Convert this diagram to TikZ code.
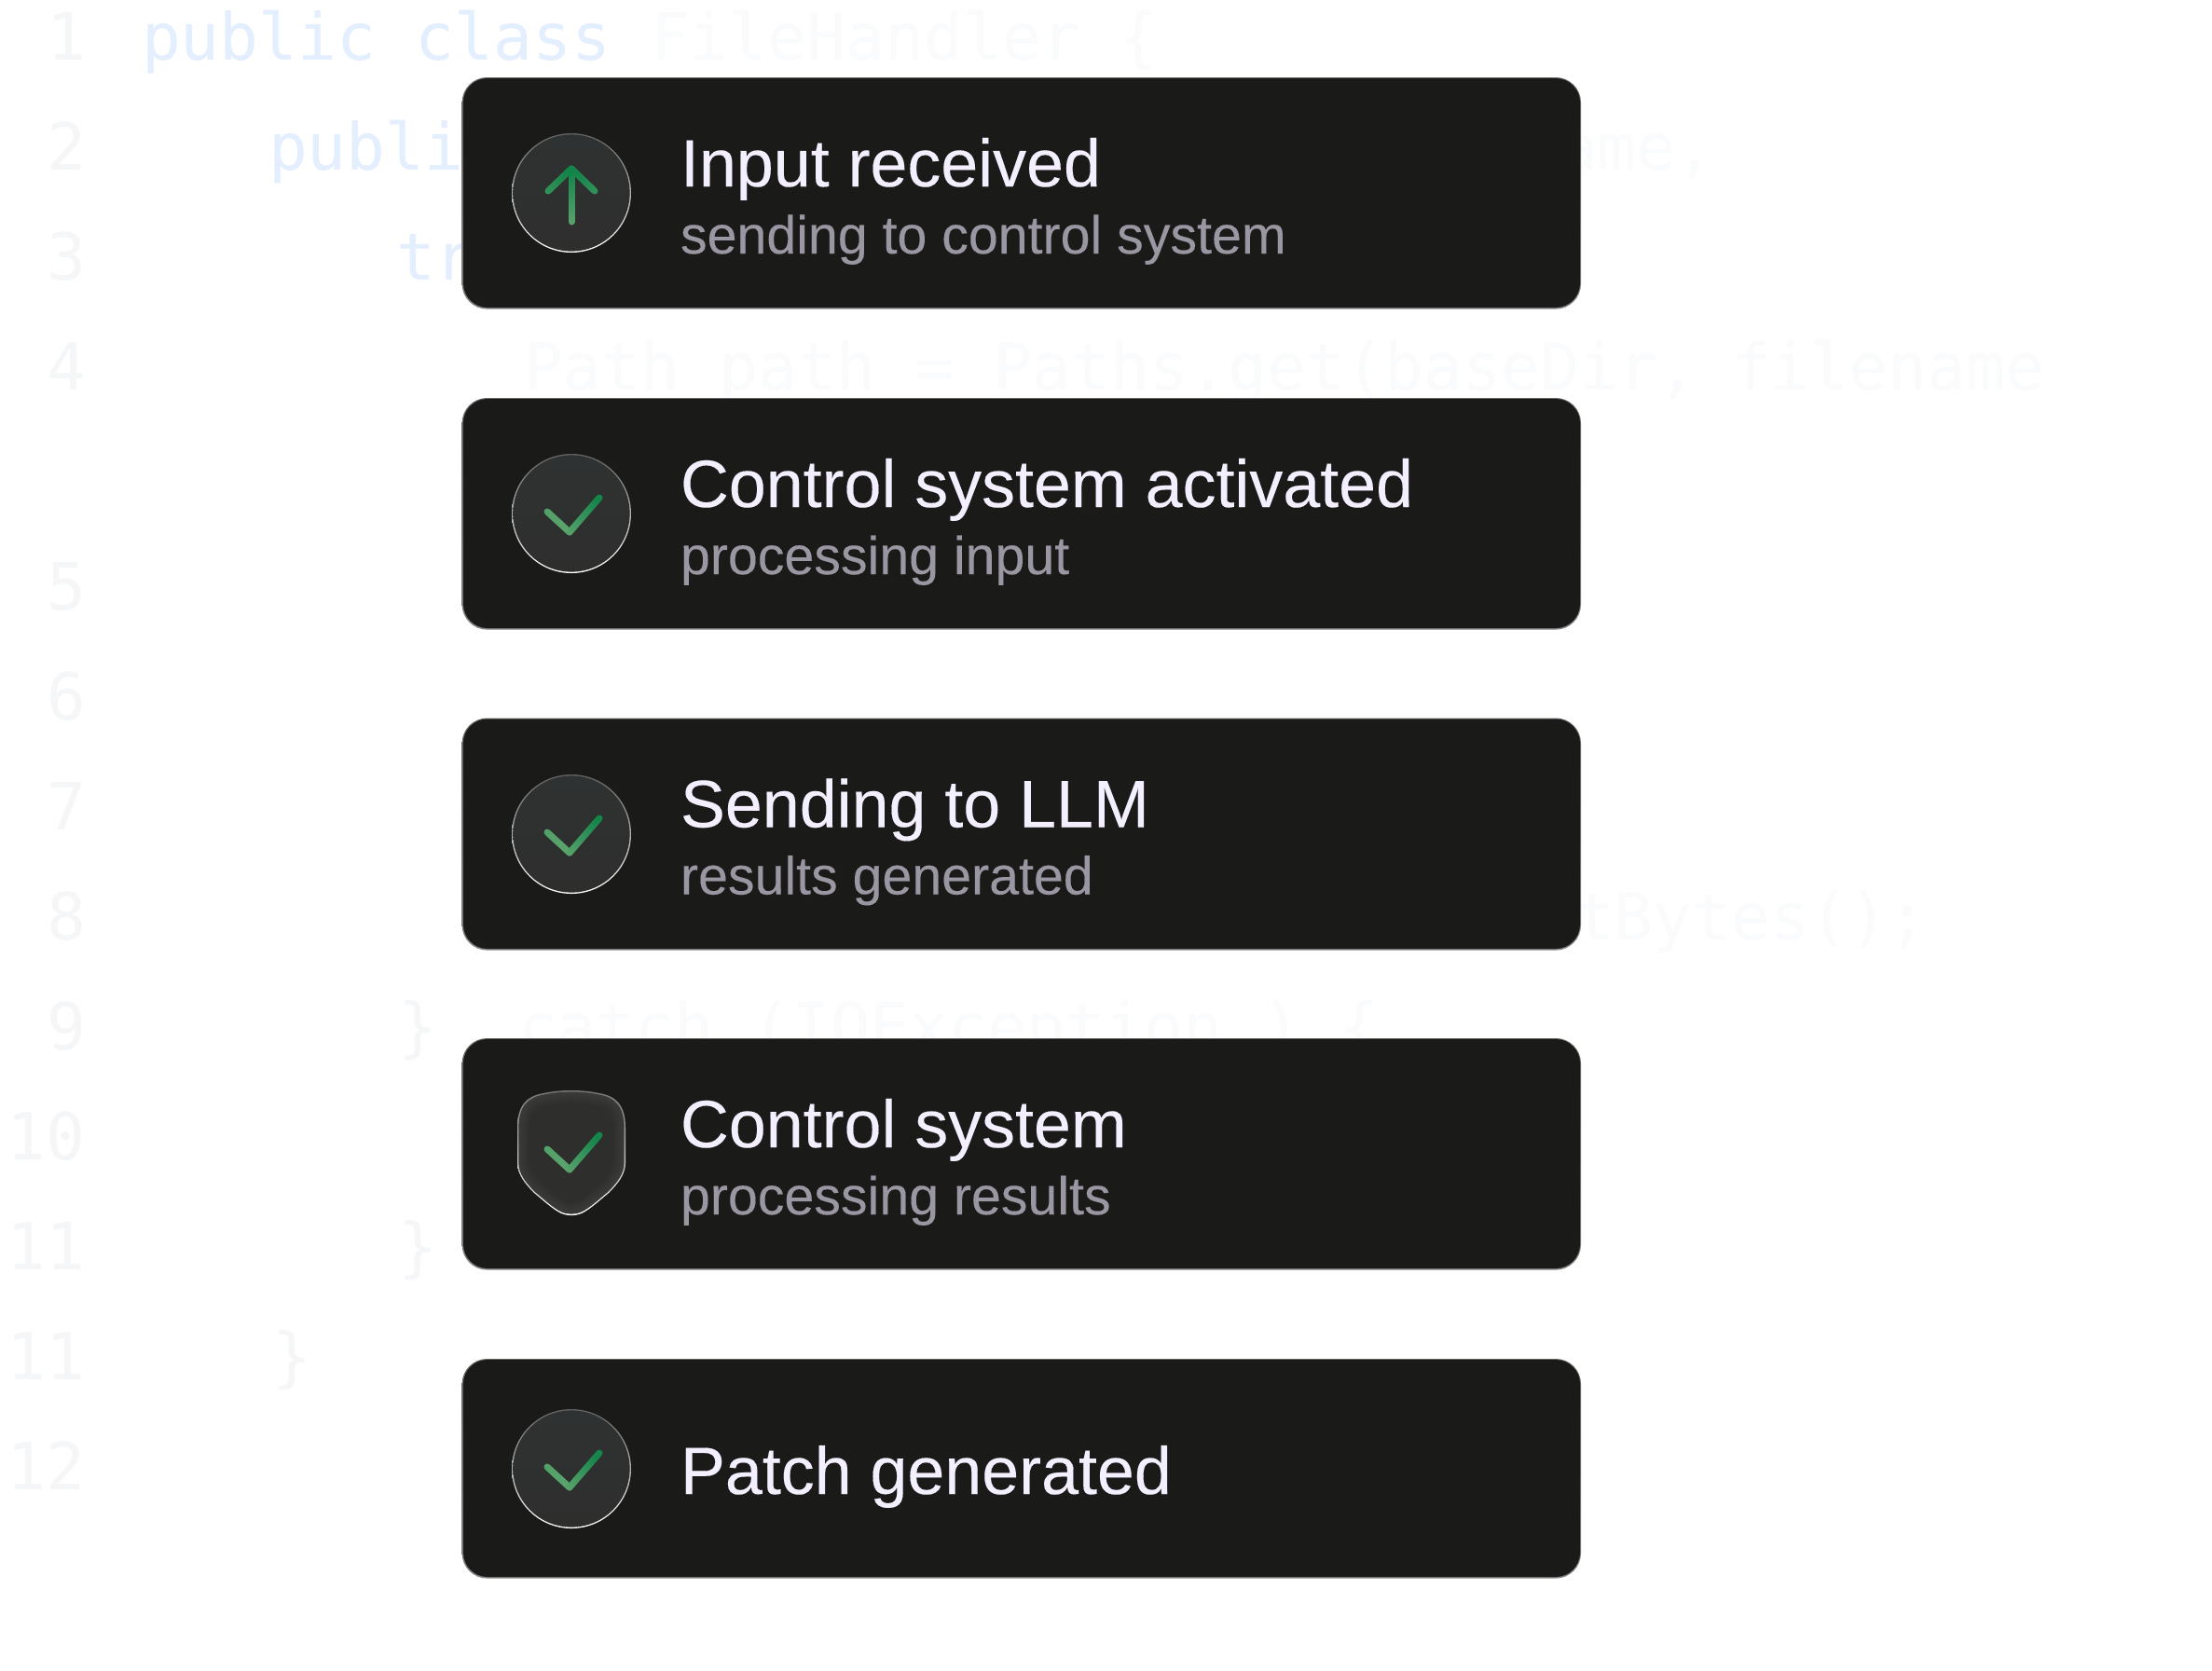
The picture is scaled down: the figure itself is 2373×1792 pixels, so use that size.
\documentclass[tikz,border=0pt]{standalone}
\usepackage{fontspec}
\usetikzlibrary{calc}
\setmainfont{Liberation Sans}
\newfontfamily\codefont{DejaVu Sans Mono}
\newfontfamily\cardfont[FakeBold=0.2]{Liberation Sans}
\definecolor{codeblue}{HTML}{E3EEFE}
\definecolor{codefaint}{HTML}{FAFBFC}
\definecolor{codenum}{HTML}{F5F6F8}
\definecolor{cardfill}{HTML}{1A1A19}
\definecolor{titlecol}{HTML}{F4EFFF}
\definecolor{subcol}{HTML}{9A96A2}
\definecolor{iconfill}{HTML}{2E2E2D}
\definecolor{icontop}{HTML}{2F3232}
\definecolor{greenlight}{HTML}{5AA36C}
\definecolor{greendark}{HTML}{128449}
\tikzset{
  codetext/.style={anchor=base west,inner sep=0pt,outer sep=0pt,font=\codefont\fontsize{69.7}{72}\selectfont,text=codefaint},
  codekey/.style={codetext,text=codeblue},
  codeline/.style={codetext,text=codenum},
  cardtitle/.style={anchor=base west,inner sep=0pt,outer sep=0pt,font=\cardfont\fontsize{71.8}{74}\selectfont,text=titlecol},
  cardsub/.style={anchor=base west,inner sep=0pt,outer sep=0pt,font=\cardfont\fontsize{57.3}{60}\selectfont,text=subcol},
  glyph/.style={line width=7pt,line cap=round,line join=round}
}
% gradient stroke: #1 start, #2 end, #3 start mix, #4 end mix (percent of greendark)
\newcommand{\gradseg}[4]{%
  \foreach \k in {0,...,13}{%
    \pgfmathsetmacro\ta{\k/14}%
    \pgfmathsetmacro\tb{(\k+1)/14}%
    \pgfmathsetmacro\mixv{#3+(#4-#3)*(\k+.5)/14}%
    \draw[glyph,color=greendark!\mixv!greenlight] ($#1!\ta!#2$) -- ($#1!\tb!#2$);
  }}
\newcommand{\cardbox}[3]{% name, top, bottom
  \shade[top color=black!60!white,bottom color=black!50!white,rounded corners=27pt] (495.6,#2-1) rectangle (1696,#3+1.6);
  \fill[cardfill,rounded corners=26pt] (497,#2) rectangle (1695,#3);
}
\newcommand{\iconcircle}[1]{% centre y
  \shade[top color=black!62!white,bottom color=white] (613,#1) circle (64);
  \shade[top color=icontop,bottom color=iconfill] (613,#1) circle (62.6);
}
\newcommand{\checkglyph}[1]{% centre y
  \coordinate (ca) at (587,#1-5);
  \coordinate (cb) at (611,#1+17);
  \coordinate (cc) at (643,#1-20);
  \gradseg{(ca)}{(cb)}{10}{0}
  \gradseg{(cb)}{(cc)}{0}{100}
}
\begin{document}
\begin{tikzpicture}[x=1pt,y=-1pt]
\useasboundingbox (0,0) rectangle (2373,1792);
\fill[white] (0,0) rectangle (2373,1792);

% line numbers
\foreach \nm/\txt/\xx/\yy in {n1/1/50/64,n2/2/50/182,n3/3/50/300,n4/4/50/418,n5/5/50/654,n6/6/50/772,n7/7/50/890,n8/8/50/1008,n9/9/50/1126,n10/10/8/1244,n11/11/8/1362,n12/11/8/1480,n13/12/8/1598}
  \node[codeline] (\nm) at (\xx,\yy) {\txt};

% code
\node[codekey] (c1a) at (152,64) {public class};
\node[codetext] (c1b) at (698,64) {FileHandler};
\node[codetext] (c1c) at (1200,64) {\{};
\node[codekey] (c2a) at (288,182) {publi};
\node[codetext] (c2b) at (1672,182) {ame,};
\node[codekey] (c3a) at (425,300) {tr};
\node[codetext] (c4a) at (562,418) {Path path = Paths.get(baseDir,};
\node[codetext] (c4b) at (1858,418) {filename};
\node[codetext] (c8a) at (1690,1008) {tBytes();};
\node[codeline] (c9a) at (427,1126) {\}};
\node[codetext] (c9b) at (556,1126) {catch (IOException ) \{};
\node[codeline] (c11a) at (427,1362) {\}};
\node[codeline] (c12a) at (292,1480) {\}};

% cards
\cardbox{card1}{84}{330}
\cardbox{card2}{428}{674}
\cardbox{card3}{771.5}{1018}
\cardbox{card4}{1115}{1361}
\cardbox{card5}{1459}{1692}

% icons
\iconcircle{207}
\coordinate (at) at (613,181);
\coordinate (ab) at (613,238);
\coordinate (al) at (588,205);
\coordinate (ar) at (638,205);
\gradseg{(ab)}{(at)}{0}{100}
\gradseg{(al)}{(at)}{55}{100}
\gradseg{(ar)}{(at)}{55}{100}

\iconcircle{551}
\checkglyph{554}
\iconcircle{895}
\checkglyph{898}

% shield
\begin{scope}[shift={(613,1238)}]
  \def\shieldpath{(-58,-28) .. controls (-58,-52) and (-48,-62) .. (-30,-65) .. controls (-12,-69) and (12,-69) .. (30,-65) .. controls (48,-62) and (58,-52) .. (58,-28) -- (58,10) .. controls (58,22) and (50,32) .. (40,42) .. controls (28,52) and (16,63) .. (8,65) .. controls (3,66.5) and (-3,66.5) .. (-8,65) .. controls (-16,63) and (-28,52) .. (-40,42) .. controls (-50,32) and (-58,22) .. (-58,10) -- cycle}
  \shade[top color=black!55!white,bottom color=white] \shieldpath;
  \begin{scope}[scale=0.977]
    \fill[iconfill] \shieldpath;
    \clip \shieldpath;
    \foreach \w in {24,20,16,12,8,4}
      \draw[white,opacity=.01,line width=\w pt] \shieldpath;
  \end{scope}
\end{scope}
\checkglyph{1238}

\iconcircle{1576}
\checkglyph{1579}

% texts
\node[cardtitle] (t1) at (730,200) {Input received};
\node[cardsub] (s1) at (730,272) {sending to control system};
\node[cardtitle] (t2) at (730,544) {Control system activated};
\node[cardsub] (s2) at (730,616) {processing input};
\node[cardtitle] (t3) at (730,887.5) {Sending to LLM};
\node[cardsub] (s3) at (730,959.5) {results generated};
\node[cardtitle] (t4) at (730,1231) {Control system};
\node[cardsub] (s4) at (730,1303) {processing results};
\node[cardtitle] (t5) at (730,1603) {Patch generated};
\end{tikzpicture}
\end{document}
